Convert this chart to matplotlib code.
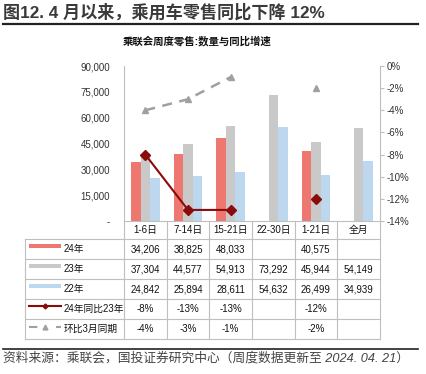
import numpy as np
import matplotlib
matplotlib.use('Agg')
import matplotlib.pyplot as plt
from matplotlib.lines import Line2D
from matplotlib.patches import Rectangle

plt.rcParams['font.family'] = ['Liberation Sans', 'Noto Sans CJK SC']
plt.rcParams['axes.unicode_minus'] = False

# data
cats = ['1-6日', '7-14日', '15-21日', '22-30日', '1-21日', '全月']
y24 = [34206, 38825, 48033, np.nan, 40575, np.nan]
y23 = [37304, 44577, 54913, 73292, 45944, 54149]
y22 = [24842, 25894, 28611, 54632, 26499, 34939]
yoy = [-8, -13, -13, np.nan, -12, np.nan]   # 24年同比23年 (%)
mom = [-4, -3, -1, np.nan, -2, np.nan]      # 环比3月同期 (%)
yticks_left = [0, 15000, 30000, 45000, 60000, 75000, 90000]
yticks_right = [0, -2, -4, -6, -8, -10, -12, -14]

RED = '#EE7770'
GRAY = '#C9C9C9'
BLUE = '#BDD7EE'
DRED = '#8B0A0A'
DGRAY = '#A0A0A0'
GRID = '#BFBFBF'

W, H = 427, 374
fig = plt.figure(figsize=(W / 100, H / 100), dpi=100)

def fax(x0, y0, x1, y1):
    # pixel box -> axes
    return fig.add_axes([x0 / W, 1 - y1 / H, (x1 - x0) / W, (y1 - y0) / H])

# title
fig.text(3 / W, 1 - 12 / H, '图12. 4 月以来，乘用车零售同比下降 12%', fontsize=12.3,
         color='#3a3a3a', va='center', ha='left', fontweight='bold')
fig.add_artist(Line2D([3 / W, 418 / W], [1 - 24 / H, 1 - 24 / H], color='#222222', lw=1.6))
fig.text(197 / W, 1 - 41 / H, '乘联会周度零售:数量与同比增速', fontsize=7.5,
         color='#111111', va='center', ha='center', fontweight='bold')

# chart
PL, PR, PT, PB = 124, 380, 66, 221
ax = fax(PL, PT, PR, PB)
x = np.arange(len(cats))
bw = 0.225
ax.bar(x - bw, y24, bw, color=RED, zorder=2)
ax.bar(x, y23, bw, color=GRAY, zorder=2)
ax.bar(x + bw, y22, bw, color=BLUE, zorder=2)
ax.set_xlim(-0.5, len(cats) - 0.5)
ax.set_ylim(0, 90000)
ax.set_yticks(yticks_left)
ax.set_yticklabels(['-' if v == 0 else f'{v:,}' for v in yticks_left], fontsize=7, color='#333333')
ax.tick_params(axis='y', length=0, pad=10)
ax.set_xticks([])
for s in ['top', 'right']:
    ax.spines[s].set_visible(False)
ax.spines['left'].set_color(GRID)
ax.spines['bottom'].set_color(GRID)

ax2 = ax.twinx()
ax2.set_ylim(-14, 0)
ax2.set_yticks(yticks_right)
ax2.set_yticklabels([f'{v}%' for v in yticks_right], fontsize=7, color='#333333')
ax2.tick_params(axis='y', length=3, color=GRID, pad=2)
for s in ['top', 'left', 'bottom']:
    ax2.spines[s].set_visible(False)
ax2.spines['right'].set_color(GRID)
ax2.plot(x, yoy, color=DRED, lw=1.5, marker='D', ms=5, zorder=5)
ax2.plot(x, mom, color=DGRAY, lw=1.8, ls=(0, (4, 3)), marker='^', ms=5, zorder=5)
ax.set_zorder(1)
ax2.set_zorder(2)
ax.patch.set_visible(False)

# table
TL, TT, TB = 25, 221, 339
tx = fax(TL, TT, PR, TB)
tx.set_xlim(TL, PR)
tx.set_ylim(TB, TT)
tx.axis('off')
cw = (PR - PL) / len(cats)
row_top = [239, 259, 279, 299, 319, 339]
for i in range(len(cats) + 1):
    xv = PL + i * cw
    tx.plot([xv, xv], [TT, TB], color=GRID, lw=0.8, clip_on=False)
tx.plot([TL, TL], [row_top[0], TB], color=GRID, lw=0.8, clip_on=False)
for yv in row_top:
    tx.plot([TL, PR], [yv, yv], color=GRID, lw=0.8, clip_on=False)
for i, c in enumerate(cats):
    tx.text(PL + (i + 0.5) * cw, 230, c, ha='center', va='center', fontsize=7, color='#111111')

rows = [('24年', y24, 'num'), ('23年', y23, 'num'), ('22年', y22, 'num'),
        ('24年同比23年', yoy, 'pct'), ('环比3月同期', mom, 'pct')]
for r, (lab, vals, kind) in enumerate(rows):
    yc = (row_top[r] + row_top[r + 1]) / 2
    tx.text(64, yc, lab, ha='left', va='center', fontsize=7, color='#111111')
    for i, v in enumerate(vals):
        if np.isnan(v):
            continue
        s = f'{v:,.0f}' if kind == 'num' else f'{v:.0f}%'
        tx.text(PL + (i + 0.5) * cw, yc, s, ha='center', va='center', fontsize=7, color='#111111')

for r, col in enumerate([RED, GRAY, BLUE]):
    tx.add_patch(Rectangle((29, row_top[r] + 5), 32, 4, color=col, lw=0))
yk = row_top[3] + 7
tx.plot([29, 61], [yk, yk], color=DRED, lw=1.5)
tx.plot([45], [yk], color=DRED, marker='D', ms=2.5)
yk = row_top[4] + 8
tx.plot([29, 61], [yk, yk], color=DGRAY, lw=1.5, ls=(0, (4, 9)))
tx.plot([45], [yk], color=DGRAY, marker='^', ms=3.5)

# source
fig.add_artist(Line2D([3 / W, 418 / W], [1 - 349 / H, 1 - 349 / H], color='#222222', lw=1.2))
fig.text(3 / W, 1 - 358 / H, '资料来源：乘联会，国投证券研究中心（周度数据更新至 2024. 04. 21）',
         fontsize=9.2, color='#444444', va='center', ha='left', style='italic')

fig.savefig('out.png', dpi=100)
